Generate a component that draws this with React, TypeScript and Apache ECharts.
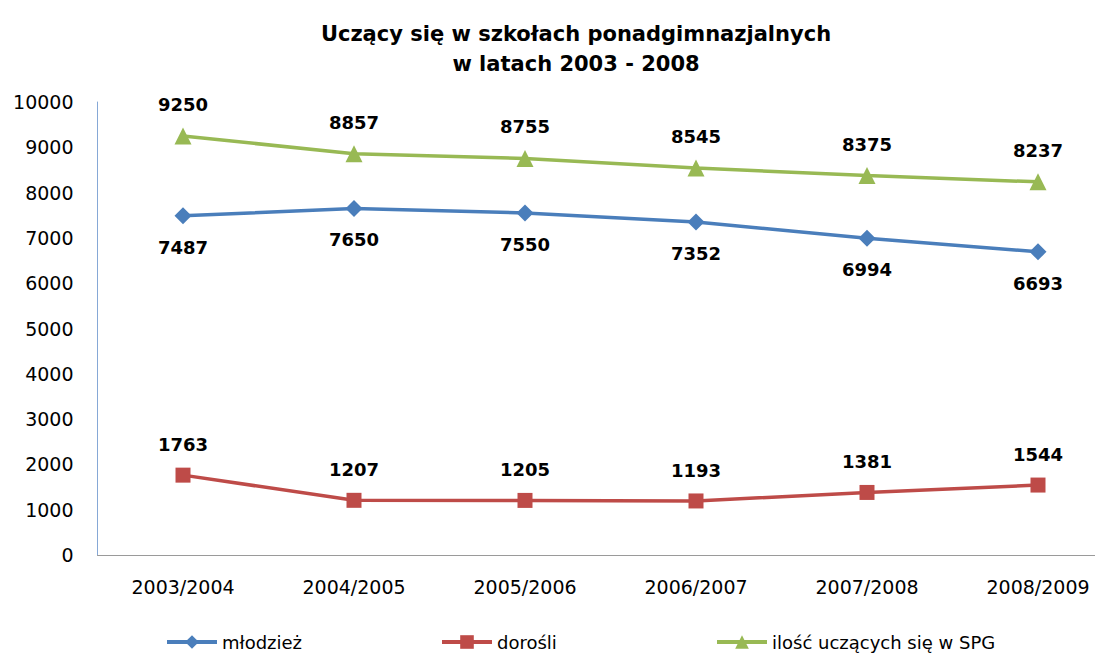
import React, { useEffect, useRef } from "react";
import * as echarts from "echarts";

const categories = ["2003/2004", "2004/2005", "2005/2006", "2006/2007", "2007/2008", "2008/2009"];
const mlodziez = [7487, 7650, 7550, 7352, 6994, 6693];
const dorosli = [1763, 1207, 1205, 1193, 1381, 1544];
const spg = [9250, 8857, 8755, 8545, 8375, 8237];
const seriesNames = ["młodzież", "dorośli", "ilość uczących się w SPG"];
const yTicks = { min: 0, max: 10000, interval: 1000 };

const FONT = "DejaVu Sans";

export default function App() {
  const ref = useRef<HTMLDivElement>(null);
  useEffect(() => {
    if (!ref.current) return;
    const chart = echarts.init(ref.current, null, { renderer: "svg" });
    const labelStyle = {
      show: true,
      fontFamily: FONT,
      fontWeight: "bold" as const,
      fontSize: 18,
      color: "#000",
      distance: 14,
    };
    const legendText = { fontFamily: FONT, fontSize: 18, color: "#000" };
    const mkLegend = (name: string, left: number) => ({
      data: [name],
      left,
      top: 633,
      padding: 0,
      itemWidth: 50,
      itemHeight: 17,
      itemGap: 4,
      lineStyle: { width: 4 },
      textStyle: legendText,
    });
    chart.setOption({
      animation: false,
      backgroundColor: "#fff",
      title: {
        text: "Uczący się w szkołach ponadgimnazjalnych\nw latach 2003 - 2008",
        left: 571,
        textAlign: "center",
        top: 14,
        textStyle: {
          fontFamily: FONT,
          fontWeight: "bold",
          fontSize: 21,
          lineHeight: 30,
          color: "#000",
        },
      },
      legend: [
        mkLegend(seriesNames[0], 165),
        mkLegend(seriesNames[1], 440),
        mkLegend(seriesNames[2], 715),
      ],
      grid: {
        left: 97.5,
        top: 102,
        right: -28.5,
        bottom: 100,
        containLabel: false,
        outerBoundsMode: "none",
      },
      xAxis: {
        type: "category",
        data: categories,
        boundaryGap: true,
        axisLine: { show: true, lineStyle: { color: "#9a9a9a", width: 1 } },
        axisTick: { show: false },
        splitLine: { show: false },
        axisLabel: { fontFamily: FONT, fontSize: 19, color: "#000", margin: 22, hideOverlap: false },
      },
      yAxis: {
        type: "value",
        min: yTicks.min,
        max: yTicks.max,
        interval: yTicks.interval,
        axisLine: { show: true, lineStyle: { color: "#86a8d6", width: 1 } },
        axisTick: { show: false },
        splitLine: { show: false },
        axisLabel: {
          fontFamily: FONT,
          fontSize: 19,
          color: "#000",
          margin: 24,
          formatter: (v: number) => String(v),
        },
      },
      series: [
        {
          name: seriesNames[0],
          type: "line",
          data: mlodziez,
          symbol: "diamond",
          symbolSize: 17,
          itemStyle: { color: "#4a7ebb" },
          lineStyle: { color: "#4a7ebb", width: 3.5 },
          label: { ...labelStyle, position: "bottom" },
        },
        {
          name: seriesNames[1],
          type: "line",
          data: dorosli,
          symbol: "rect",
          symbolSize: 15,
          itemStyle: { color: "#be4b48" },
          lineStyle: { color: "#be4b48", width: 3.5 },
          label: { ...labelStyle, position: "top" },
        },
        {
          name: seriesNames[2],
          type: "line",
          data: spg,
          symbol: "triangle",
          symbolSize: 17,
          itemStyle: { color: "#98b954" },
          lineStyle: { color: "#98b954", width: 3.5 },
          label: { ...labelStyle, position: "top" },
        },
      ],
    });
    return () => chart.dispose();
  }, []);
  return (
    <div
      ref={ref}
      style={{ position: "fixed", left: 0, top: 0, width: 1095, height: 655 }}
    />
  );
}
